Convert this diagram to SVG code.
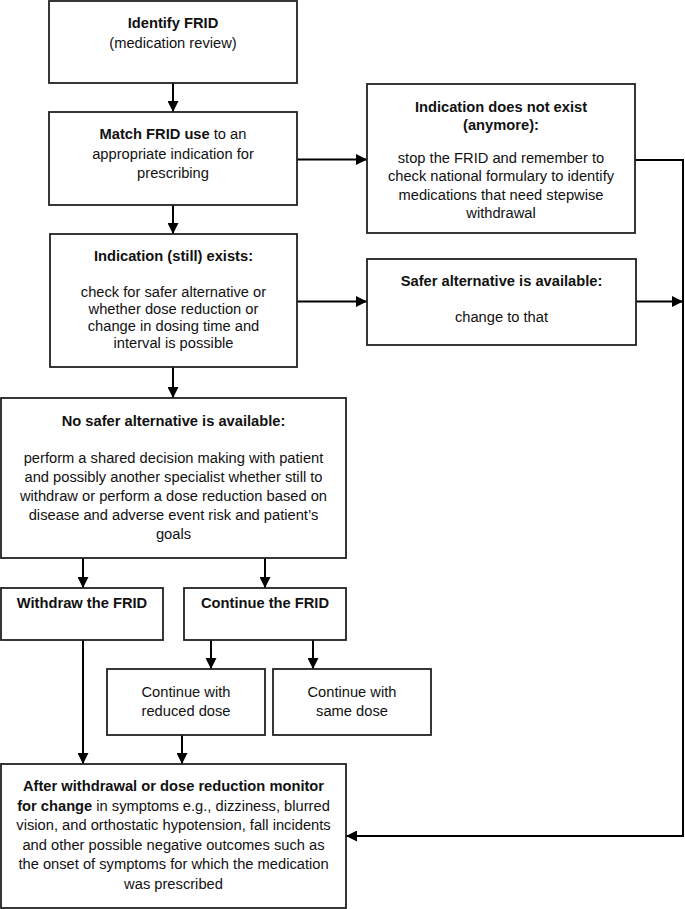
<svg xmlns="http://www.w3.org/2000/svg" width="685" height="909" viewBox="0 0 685 909">
<style>
.box{fill:#fff;stroke:#222;stroke-width:1.8}
.t{font-family:"Liberation Sans",Arial,sans-serif;font-size:14.7px;fill:#111;text-anchor:middle}
.b{font-weight:bold}
.c{fill:none;stroke:#000;stroke-width:2}
</style>
<defs>
<marker id="ah" markerUnits="userSpaceOnUse" markerWidth="11" markerHeight="11" refX="11" refY="5.5" orient="auto">
<path d="M0,0 L11,5.5 L0,11 z" fill="#000"/>
</marker>
</defs>
<rect width="685" height="909" fill="#fff"/>
<g id="connectors">
<line class="c" x1="173" y1="83" x2="173" y2="112" marker-end="url(#ah)"/>
<line class="c" x1="297" y1="159.5" x2="367" y2="159.5" marker-end="url(#ah)"/>
<line class="c" x1="173" y1="205" x2="173" y2="234" marker-end="url(#ah)"/>
<polyline class="c" points="635,160 683,160 683,836 346,836" marker-end="url(#ah)"/>
<line class="c" x1="297" y1="301.5" x2="367" y2="301.5" marker-end="url(#ah)"/>
<line class="c" x1="636" y1="301.5" x2="683" y2="301.5" marker-end="url(#ah)"/>
<line class="c" x1="173" y1="367" x2="173" y2="398" marker-end="url(#ah)"/>
<line class="c" x1="83" y1="558" x2="83" y2="588" marker-end="url(#ah)"/>
<line class="c" x1="265" y1="558" x2="265" y2="588" marker-end="url(#ah)"/>
<line class="c" x1="211" y1="640" x2="211" y2="669" marker-end="url(#ah)"/>
<line class="c" x1="313" y1="640" x2="313" y2="669" marker-end="url(#ah)"/>
<line class="c" x1="83" y1="640" x2="83" y2="764" marker-end="url(#ah)"/>
<line class="c" x1="182" y1="735" x2="182" y2="764" marker-end="url(#ah)"/>
</g>
<g id="identify">
<rect class="box" x="49" y="1" width="248" height="82"/>
<text class="t b" x="173" y="28">Identify FRID</text>
<text class="t" x="173" y="47.5">(medication review)</text>
</g>
<g id="match">
<rect class="box" x="49" y="112" width="248" height="93"/>
<text class="t" x="173" y="139"><tspan class="b">Match FRID use</tspan> to an</text>
<text class="t" x="173" y="158.5">appropriate indication for</text>
<text class="t" x="173" y="178">prescribing</text>
</g>
<g id="exists">
<rect class="box" x="50" y="234" width="247" height="133"/>
<text class="t b" x="173.5" y="261">Indication (still) exists:</text>
<text class="t" x="173.5" y="296.5">check for safer alternative or</text>
<text class="t" x="173.5" y="314">whether dose reduction or</text>
<text class="t" x="173.5" y="331">change in dosing time and</text>
<text class="t" x="173.5" y="348">interval is possible</text>
</g>
<g id="notexist">
<rect class="box" x="367" y="84" width="268" height="149"/>
<text class="t b" x="501" y="111.5">Indication does not exist</text>
<text class="t b" x="501" y="130">(anymore):</text>
<text class="t" x="501" y="162.5">stop the FRID and remember to</text>
<text class="t" x="501" y="181">check national formulary to identify</text>
<text class="t" x="501" y="199.5">medications that need stepwise</text>
<text class="t" x="501" y="217.5">withdrawal</text>
</g>
<g id="safer">
<rect class="box" x="367" y="259" width="269" height="86"/>
<text class="t b" x="501.5" y="286">Safer alternative is available:</text>
<text class="t" x="501.5" y="321.5">change to that</text>
</g>
<g id="nosafer">
<rect class="box" x="1" y="398" width="345" height="160"/>
<text class="t b" x="173.5" y="426">No safer alternative is available:</text>
<text class="t" x="173.5" y="462.5">perform a shared decision making with patient</text>
<text class="t" x="173.5" y="481.5">and possibly another specialist whether still to</text>
<text class="t" x="173.5" y="500.5">withdraw or perform a dose reduction based on</text>
<text class="t" x="173.5" y="519.5">disease and adverse event risk and patient’s</text>
<text class="t" x="173.5" y="538.5">goals</text>
</g>
<g id="withdraw">
<rect class="box" x="1" y="588" width="162" height="52"/>
<text class="t b" x="82" y="607.5">Withdraw the FRID</text>
</g>
<g id="continue">
<rect class="box" x="184" y="588" width="162" height="52"/>
<text class="t b" x="265" y="607.5">Continue the FRID</text>
</g>
<g id="reduced">
<rect class="box" x="107" y="669" width="158" height="66"/>
<text class="t" x="186" y="696.5">Continue with</text>
<text class="t" x="186" y="715.5">reduced dose</text>
</g>
<g id="same">
<rect class="box" x="273" y="669" width="158" height="66"/>
<text class="t" x="352" y="696.5">Continue with</text>
<text class="t" x="352" y="715.5">same dose</text>
</g>
<g id="monitor">
<rect class="box" x="1" y="764" width="345" height="144"/>
<text class="t b" x="173.5" y="791">After withdrawal or dose reduction monitor</text>
<text class="t" x="173.5" y="810.5"><tspan class="b">for change</tspan> in symptoms e.g., dizziness, blurred</text>
<text class="t" x="173.5" y="830">vision, and orthostatic hypotension, fall incidents</text>
<text class="t" x="173.5" y="849.5">and other possible negative outcomes such as</text>
<text class="t" x="173.5" y="869">the onset of symptoms for which the medication</text>
<text class="t" x="173.5" y="888.5">was prescribed</text>
</g>
</svg>
